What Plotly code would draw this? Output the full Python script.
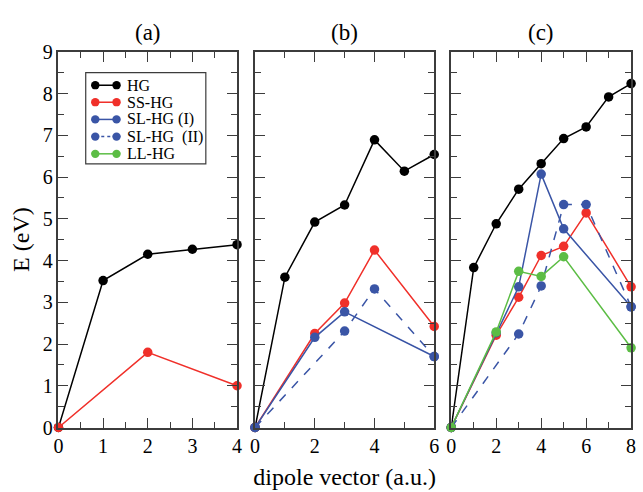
import plotly.graph_objects as go

# ---- data ----
panels = ["(a)", "(b)", "(c)"]
x_ranges = [4, 6, 8]

hg_a_x = [0, 1, 2, 3, 4]
hg_a_y = [0, 3.52, 4.15, 4.27, 4.38]
ss_a_x = [0, 2, 4]
ss_a_y = [0, 1.80, 1.00]

hg_b_x = [0, 1, 2, 3, 4, 5, 6]
hg_b_y = [0, 3.60, 4.92, 5.33, 6.89, 6.14, 6.54]
ss_b_x = [0, 2, 3, 4, 6]
ss_b_y = [0, 2.25, 2.98, 4.25, 2.42]
sl1_b_x = [0, 2, 3, 6]
sl1_b_y = [0, 2.16, 2.77, 1.70]
sl2_b_x = [0, 3, 4, 6]
sl2_b_y = [0, 2.31, 3.32, 1.70]

hg_c_x = [0, 1, 2, 3, 4, 5, 6, 7, 8]
hg_c_y = [0, 3.83, 4.88, 5.71, 6.32, 6.92, 7.20, 7.92, 8.24]
ss_c_x = [0, 2, 3, 4, 5, 6, 8]
ss_c_y = [0, 2.21, 3.12, 4.12, 4.34, 5.14, 3.37]
sl1_c_x = [0, 2, 3, 4, 5, 8]
sl1_c_y = [0, 2.27, 3.37, 6.07, 4.76, 2.89]
sl2_c_x = [0, 3, 4, 5, 6, 8]
sl2_c_y = [0, 2.24, 3.39, 5.34, 5.34, 2.89]
ll_c_x = [0, 2, 3, 4, 5, 8]
ll_c_y = [0, 2.29, 3.74, 3.62, 4.09, 1.91]

series_names = ["HG", "SS-HG", "SL-HG (I)", "SL-HG\u00a0\u00a0(II)", "LL-HG"]
series_colors = ["#000000", "#f0302a", "#3a55a6", "#3a55a6", "#5cbd45"]
series_dash = ["solid", "solid", "solid", "dash", "solid"]

series_data = [
    [(hg_a_x, hg_a_y), (hg_b_x, hg_b_y), (hg_c_x, hg_c_y)],
    [(ss_a_x, ss_a_y), (ss_b_x, ss_b_y), (ss_c_x, ss_c_y)],
    [None, (sl1_b_x, sl1_b_y), (sl1_c_x, sl1_c_y)],
    [None, (sl2_b_x, sl2_b_y), (sl2_c_x, sl2_c_y)],
    [None, None, (ll_c_x, ll_c_y)],
]

W, H = 643, 492
font_family = "Liberation Serif"
axis_col = "#3c3c3c"


def px(x):
    return x / W


def py(y):
    return (H - y) / H


fig = go.Figure()

for s, name in enumerate(series_names):
    for p in range(3):
        d = series_data[s][p]
        if d is None:
            continue
        xs, ys = d
        suffix = "" if p == 0 else str(p + 1)
        fig.add_trace(go.Scatter(
            x=xs, y=ys, mode="lines+markers", name=name,
            xaxis="x" + suffix, yaxis="y" + suffix,
            line=dict(color=series_colors[s], width=1.5, dash=series_dash[s]),
            marker=dict(color=series_colors[s], size=9.5),
            cliponaxis=False, showlegend=False,
        ))

x_domains = [[px(54.3), px(235.7)], [px(254), px(436)], [px(453.3), px(636)]]
y_domain = [py(436), py(42.7)]

layout = dict(
    width=W, height=H,
    margin=dict(l=0, r=0, t=0, b=0),
    paper_bgcolor="white", plot_bgcolor="white",
    font=dict(family=font_family, size=20, color="black"),
    showlegend=False,
)

x_dticks = [1, 2, 2]
x_minor = [0.5, 1, 1]
for p in range(3):
    suffix = "" if p == 0 else str(p + 1)
    layout["xaxis" + suffix] = dict(
        domain=x_domains[p], range=[0, x_ranges[p]], anchor="y" + suffix,
        tickmode="linear", tick0=0, dtick=x_dticks[p],
        ticks="inside", ticklen=10, tickwidth=1.2, tickcolor=axis_col,
        minor=dict(dtick=x_minor[p], ticks="inside", ticklen=6, tickcolor=axis_col, tickwidth=1.2),
        showline=True, linecolor=axis_col, linewidth=1.5, mirror="allticks",
        showgrid=False, zeroline=False,
        tickfont=dict(family=font_family, size=20),
    )
    layout["yaxis" + suffix] = dict(
        domain=y_domain, range=[0, 9], anchor="x" + suffix,
        tickmode="linear", tick0=0, dtick=1,
        ticks="inside", ticklen=10, tickwidth=1.2, tickcolor=axis_col,
        minor=dict(dtick=0.5, ticks="inside", ticklen=6, tickcolor=axis_col, tickwidth=1.2),
        showline=True, linecolor=axis_col, linewidth=1.5, mirror="allticks",
        showgrid=False, zeroline=False, showticklabels=(p == 0),
        tickfont=dict(family=font_family, size=20),
    )

layout["xaxis2"]["title"] = dict(text="dipole vector (a.u.)", font=dict(family=font_family, size=24), standoff=12)
layout["yaxis"]["title"] = dict(text="E (eV)", font=dict(family=font_family, size=24), standoff=6)

annotations = []
shapes = []
for p in range(3):
    annotations.append(dict(
        text=panels[p], x=(x_domains[p][0] + x_domains[p][1]) / 2, y=py(23),
        xref="paper", yref="paper", showarrow=False,
        font=dict(family=font_family, size=23), xanchor="center", yanchor="middle",
    ))

# ---- manual legend (line with a marker at both ends) ----
leg_left, leg_right, leg_top, leg_bottom = 82, 204, 64.5, 160
shapes.append(dict(type="rect", xref="paper", yref="paper",
                   x0=px(leg_left), x1=px(leg_right), y0=py(leg_bottom), y1=py(leg_top),
                   line=dict(color=axis_col, width=1.2), fillcolor="white", layer="above"))
row_y = [77.7, 95.5, 113.5, 131.5, 149.5]
m_r = 4.3
for s, name in enumerate(series_names):
    yy = row_y[s]
    shapes.append(dict(type="line", xref="paper", yref="paper",
                       x0=px(91.7), x1=px(113.3), y0=py(yy), y1=py(yy),
                       line=dict(color=series_colors[s], width=1.5,
                                 dash="3px,3px" if series_dash[s] == "dash" else "solid"),
                       layer="above"))
    for cx in (91.7, 113.3):
        shapes.append(dict(type="circle", xref="paper", yref="paper",
                           x0=px(cx - m_r), x1=px(cx + m_r), y0=py(yy + m_r), y1=py(yy - m_r),
                           line=dict(color=series_colors[s], width=0),
                           fillcolor=series_colors[s], layer="above"))
    annotations.append(dict(
        text=name, x=px(122), y=py(yy), xref="paper", yref="paper", showarrow=False,
        xanchor="left", yanchor="middle", font=dict(family=font_family, size=16, color="black"),
    ))

layout["annotations"] = annotations
layout["shapes"] = shapes

fig.update_layout(**layout)
fig.write_html("out.html")
